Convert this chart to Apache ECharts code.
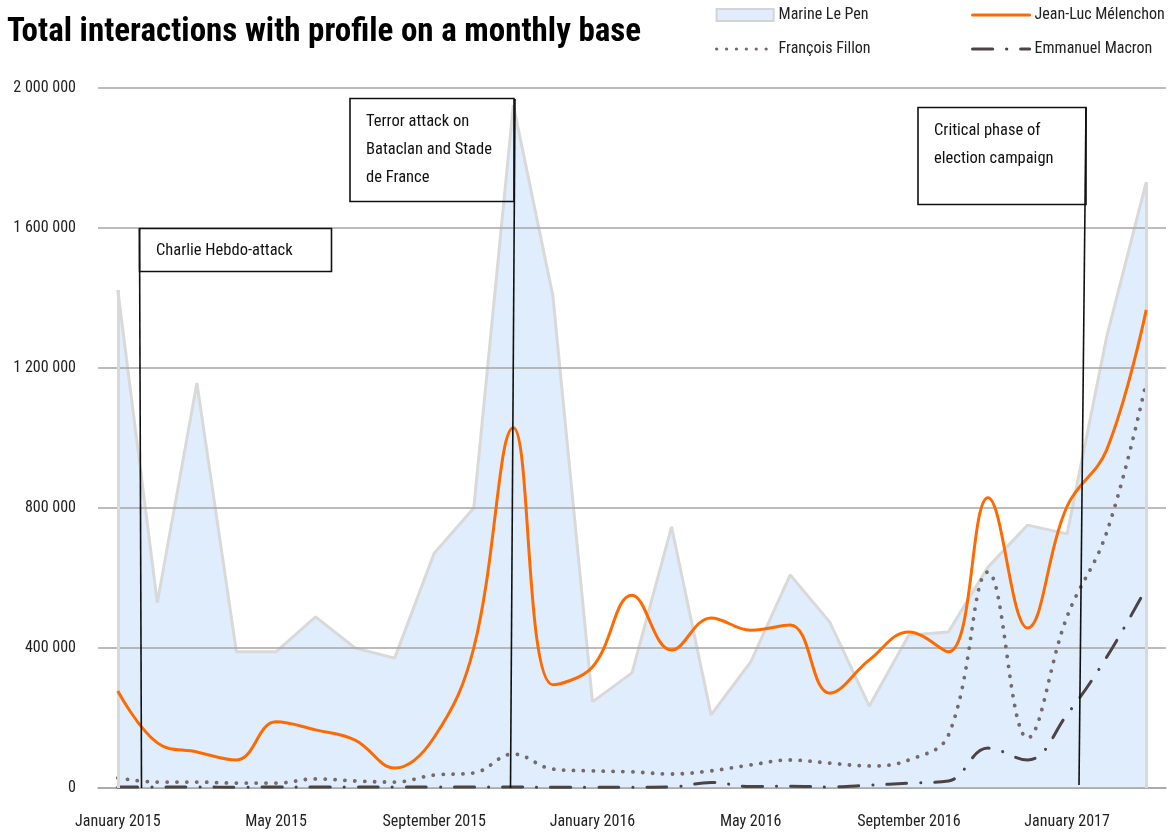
<!DOCTYPE html>
<html>
<head>
<meta charset="utf-8">
<script src="https://cdn.jsdelivr.net/npm/echarts@6/dist/echarts.min.js"></script>
<style>
html,body{margin:0;padding:0;background:#fff;}
#chart{width:1173px;height:833px;}
</style>
</head>
<body>
<div id="chart"></div>
<script>
const months = ['January 2015','February 2015','March 2015','April 2015','May 2015','June 2015','July 2015','August 2015',
  'September 2015','October 2015','November 2015','December 2015','January 2016','February 2016','March 2016','April 2016',
  'May 2016','June 2016','July 2016','August 2016','September 2016','October 2016','November 2016','December 2016',
  'January 2017','February 2017','March 2017'];
const lePen = [1423000,529000,1157000,389000,389000,489000,400000,371000,671000,800000,1951000,1406000,
  246000,329000,746000,209000,360000,609000,474000,234000,437000,446000,631000,751000,726000,1289000,1731000];
const melenchon = [277000,129000,103000,80000,189000,166000,137000,57000,145000,400000,1029000,295000,
  346000,551000,394000,486000,451000,466000,271000,366000,446000,389000,829000,457000,805000,966000,1366000];
const fillon = [29000,17000,17000,14000,14000,26000,20000,17000,37000,43000,97000,54000,
  49000,46000,40000,49000,66000,80000,71000,63000,80000,151000,617000,143000,490000,730000,1160000];
const macron = [3000,3000,3000,2000,3000,3000,3000,3000,3000,3000,3000,2000,
  2000,2000,3000,16000,4000,5000,3000,8000,14000,20000,114000,80000,210000,374000,571000];
const yTicks = {min:0, max:2000000, interval:400000};

const FAM = 'Roboto, "Open Sans", sans-serif';
const REG = 'condensed';          // font-stretch carried in the weight slot of the font shorthand
const BOLD = 'bold condensed';
const fmt = v => String(v).replace(/\B(?=(\d{3})+(?!\d))/g, ' ');

const chart = echarts.init(document.getElementById('chart'));
const annText = (x, y, t) => ({type:'text', x:x, y:y, z:100,
  style:{text:t, font:'condensed 16.5px ' + FAM, fill:'#111', verticalAlign:'middle'}});
const annRect = (x, y, w, h) => ({type:'rect', z:100, shape:{x:x, y:y, width:w, height:h},
  style:{fill:'none', stroke:'#111', lineWidth:1.6}});
const annLine = (x1, y1, x2, y2) => ({type:'line', z:100, shape:{x1:x1, y1:y1, x2:x2, y2:y2},
  style:{stroke:'#111', lineWidth:1.6}});
const lt = {fontFamily:FAM, fontWeight:REG, fontSize:16, color:'#222'};
const legendBase = {orient:'vertical', top:7, padding:0, itemWidth:57, itemHeight:12, itemGap:18,
  itemStyle:{opacity:0}, lineStyle:{width:3.2, cap:'round'}, textStyle:lt};

chart.setOption({
  backgroundColor:'#fff',
  animation:false,
  title:{text:'Total interactions with profile on a monthly base', left:2, top:11,
    textStyle:{fontFamily:FAM, fontWeight:BOLD, fontSize:33, color:'#000'}},
  legend:[
    Object.assign({left:715,
     data:[{name:'Marine Le Pen', icon:'rect', itemStyle:{opacity:1, color:'#dfedfc', borderColor:'#d4d4d4', borderWidth:2}},
           {name:'François Fillon'}]}, legendBase),
    Object.assign({left:971,
     data:[{name:'Jean-Luc Mélenchon'},{name:'Emmanuel Macron'}]}, legendBase)
  ],
  grid:{left:98, right:7, top:88, bottom:45, containLabel:false},
  xAxis:{type:'category', data:months, boundaryGap:true,
    axisLine:{lineStyle:{color:'#a6a6a6', width:1.5}}, axisTick:{show:false},
    axisLabel:Object.assign({interval:3, margin:26}, lt)},
  yAxis:{type:'value', min:yTicks.min, max:yTicks.max, interval:yTicks.interval, z:2,
    axisLine:{show:false}, axisTick:{show:false},
    axisLabel:Object.assign({formatter:fmt, margin:22}, lt),
    splitLine:{lineStyle:{color:'#a6a6a6', width:1.5}}},
  series:[
    {name:'Marine Le Pen', type:'line', data:lePen, z:1, symbol:'none',
     lineStyle:{color:'#d9d9d9', width:3}, itemStyle:{color:'#dfedfc'},
     areaStyle:{color:'#dfedfc', opacity:1},
     markLine:{silent:true, symbol:'none', label:{show:false}, lineStyle:{color:'#d9d9d9', width:3, type:'solid'},
       data:[[{coord:[0,0]},{coord:[0,lePen[0]]}],
             [{coord:[lePen.length-1,0]},{coord:[lePen.length-1,lePen[lePen.length-1]]}]]}},
    {name:'Emmanuel Macron', type:'line', data:macron, z:3, symbol:'none', smooth:0.4,
     lineStyle:{color:'#4d4344', width:3, type:[20,14,0.1,14], cap:'round'}, itemStyle:{color:'#4d4344'}},
    {name:'François Fillon', type:'line', data:fillon, z:4, symbol:'none', smooth:0.4,
     lineStyle:{color:'#75696a', width:3.8, type:[0.1,9.8], cap:'round'}, itemStyle:{color:'#75696a'}},
    {name:'Jean-Luc Mélenchon', type:'line', data:melenchon, z:5, symbol:'none', smooth:0.4,
     lineStyle:{color:'#ff6a00', width:3}, itemStyle:{color:'#ff6a00'}}
  ],
  graphic:[
    annLine(139.5,228.5,141.5,788), annRect(139.5,228.5,192,43), annText(156,251,'Charlie Hebdo-attack'),
    annLine(515,99,510.5,788), annRect(350,98.5,164,103),
    annText(366,122,'Terror attack on'), annText(366,150,'Bataclan and Stade'), annText(366,178,'de France'),
    annLine(1086,107,1079,785), annRect(918,107.5,168,97),
    annText(934,131,'Critical phase of'), annText(934,159,'election campaign')
  ]
});
</script>
</body>
</html>
